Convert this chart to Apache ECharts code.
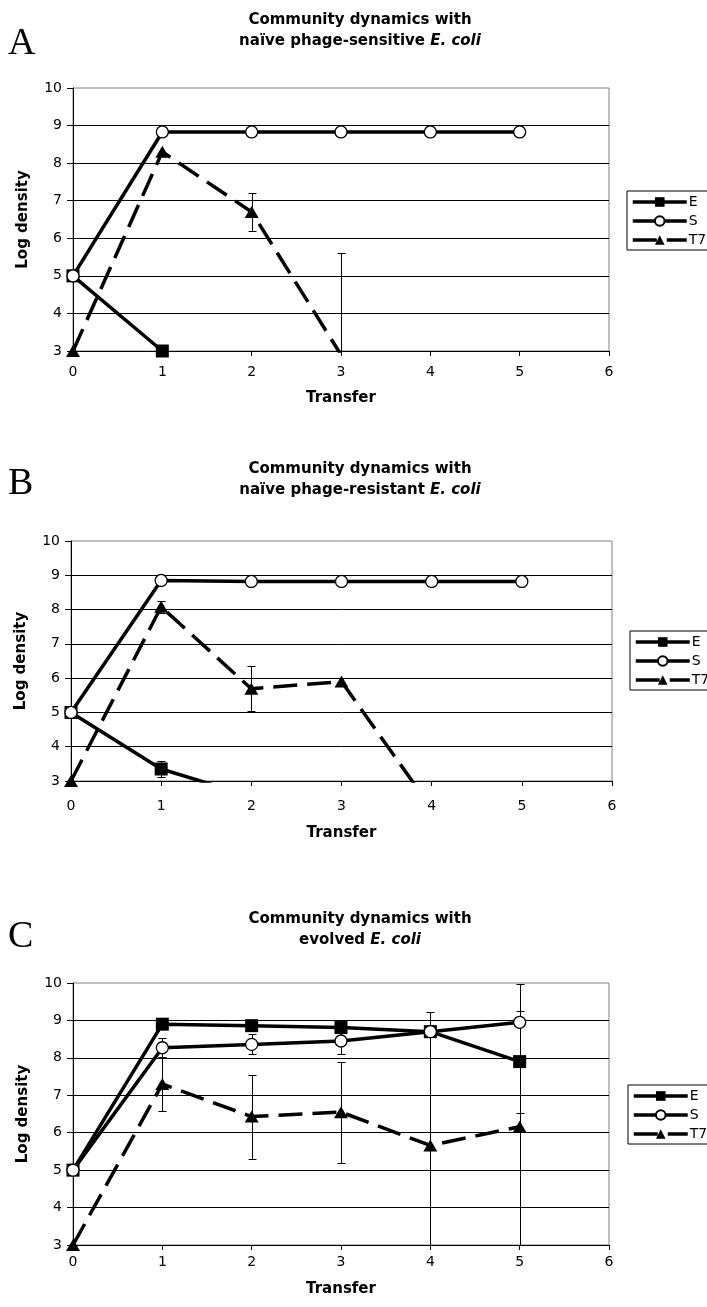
<!DOCTYPE html>
<html><head><meta charset="utf-8">
<script src="https://cdn.jsdelivr.net/npm/echarts@6/dist/echarts.min.js"></script>
<style>html,body{margin:0;padding:0;background:#fff}#c{width:707px;height:1307px}</style>
</head><body><div id="c"></div>
<script>
// ---------- data ----------
const transfers = [0, 1, 2, 3, 4, 5];
const seriesNames = ['E', 'S', 'T7'];
const panelLetters = ['A', 'B', 'C'];
const titleLine1 = 'Community dynamics with';
const titleLine2 = ['naïve phage-sensitive ', 'naïve phage-resistant ', 'evolved '];
const titleItalic = 'E. coli';
const yAxisName = 'Log density';
const xAxisName = 'Transfer';

// Panel A
const A_E = [5, 3, null, null, null, null];
const A_E_err = [0, 0, 0, 0, 0, 0];
const A_S = [5, 8.83, 8.83, 8.83, 8.83, 8.83];
const A_S_err = [0, 0, 0, 0, 0, 0];
const A_T7 = [3, 8.3, 6.7, 2.9, null, null];
const A_T7_err = [0, 0, 0.51, 2.7, 0, 0];

// Panel B
const B_E = [5, 3.35, 2.55, null, null, null];
const B_E_err = [0, 0.22, 0, 0, 0, 0];
const B_S = [5, 8.85, 8.82, 8.82, 8.82, 8.82];
const B_S_err = [0, 0, 0, 0, 0, 0];
const B_T7 = [3, 8.08, 5.69, 5.9, 2.2, null];
const B_T7_err = [0, 0.17, 0.65, 0, 0, 0];

// Panel C
const C_E = [5, 8.9, 8.86, 8.81, 8.7, 7.9];
const C_E_err = [0, 0, 0, 0, 0, 1.36];
const C_S = [5, 8.27, 8.36, 8.45, 8.7, 8.95];
const C_S_err = [0, 0.25, 0.27, 0.35, 0, 0];
const C_T7 = [3, 7.3, 6.43, 6.55, 5.66, 6.16];
const C_T7_err = [0, 0.71, 1.12, 1.35, 3.57, 3.82];

const panels = [
  { E: A_E, S: A_S, T7: A_T7, Eerr: A_E_err, Serr: A_S_err, Terr: A_T7_err },
  { E: B_E, S: B_S, T7: B_T7, Eerr: B_E_err, Serr: B_S_err, Terr: B_T7_err },
  { E: C_E, S: C_S, T7: C_T7, Eerr: C_E_err, Serr: C_S_err, Terr: C_T7_err }
];

// ---------- layout ----------
const FONT = 'DejaVu Sans';
const grids = [
  { left: 73, top: 88, width: 536, height: 263 },
  { left: 71, top: 541, width: 541, height: 240 },
  { left: 73, top: 983, width: 536, height: 262 }
];
const titleTops = [5, 454, 904];
const letterY = [45, 485, 938];
const xLabelMargin = [14, 18, 10];
const xNameGap = [40, 45, 37];
const legendPos = [
  { left: 627, top: 191 },
  { left: 630, top: 631 },
  { left: 628, top: 1085 }
];
const LINE_W = 3.5;
const DASH = [24, 10];

const chart = echarts.init(document.getElementById('c'), null, { renderer: 'canvas' });

const option = {
  backgroundColor: '#fff',
  animation: false,
  textStyle: { fontFamily: FONT, color: '#000' },
  title: [], grid: [], xAxis: [], yAxis: [], legend: [], series: [], graphic: []
};

function pairs(arr) {
  const out = [];
  arr.forEach((v, i) => { if (v !== null) out.push([transfers[i], v]); });
  return out;
}
function errItems(vals, errs) {
  const out = [];
  vals.forEach((v, i) => { if (v !== null && errs[i] > 0) out.push([transfers[i], v, errs[i]]); });
  return out;
}

panels.forEach((p, k) => {
  option.grid.push(Object.assign({ show: true, borderColor: '#808080', borderWidth: 1, backgroundColor: 'transparent', containLabel: false }, grids[k]));
  option.title.push({
    text: titleLine1 + '\n' + titleLine2[k] + '{i|' + titleItalic + '}',
    left: 355, top: titleTops[k], textAlign: 'center',
    textStyle: {
      fontFamily: FONT, fontSize: 15, fontWeight: 'bold', color: '#000', lineHeight: 21,
      rich: { i: { fontFamily: FONT, fontSize: 15, fontWeight: 'bold', fontStyle: 'italic', color: '#000', lineHeight: 21 } }
    }
  });
  option.graphic.push({
    type: 'text', left: 8, top: letterY[k] - 20,
    style: { text: panelLetters[k], font: '38px "Liberation Serif"', fill: '#000' }
  });
  option.xAxis.push({
    type: 'value', gridIndex: k, min: 0, max: 6, interval: 1,
    name: xAxisName, nameLocation: 'middle', nameGap: xNameGap[k],
    nameTextStyle: { fontFamily: FONT, fontSize: 15, fontWeight: 'bold', color: '#000' },
    axisLine: { show: true, onZero: false, lineStyle: { color: '#000', width: 1 } },
    axisTick: { show: true, inside: false, length: 5, lineStyle: { color: '#000' } },
    axisLabel: { fontFamily: FONT, fontSize: 14, color: '#000', margin: xLabelMargin[k] },
    splitLine: { show: false }
  });
  option.yAxis.push({
    type: 'value', gridIndex: k, min: 3, max: 10, interval: 1,
    name: yAxisName, nameLocation: 'middle', nameGap: 42, nameRotate: 90,
    nameTextStyle: { fontFamily: FONT, fontSize: 15, fontWeight: 'bold', color: '#000' },
    axisLine: { show: true, onZero: false, lineStyle: { color: '#000', width: 1 } },
    axisTick: { show: true, inside: false, length: 6, lineStyle: { color: '#000' } },
    axisLabel: { fontFamily: FONT, fontSize: 14, color: '#000', margin: 11 },
    splitLine: { show: true, showMinLine: false, showMaxLine: false, lineStyle: { color: '#000', width: 1 } }
  });
  option.legend.push({
    data: [
      { name: 'E', lineStyle: { color: '#000', width: LINE_W, type: 'solid' } },
      { name: 'S', lineStyle: { color: '#000', width: LINE_W, type: 'solid' } },
      { name: 'T7', lineStyle: { color: '#000', width: LINE_W, type: DASH } }
    ],
    orient: 'vertical',
    left: legendPos[k].left, top: legendPos[k].top,
    padding: [4, 40, 3, 4], itemWidth: 54, itemHeight: 12, itemGap: 5,
    borderColor: '#000', borderWidth: 1, backgroundColor: '#fff',
    selectedMode: false,
    textStyle: { fontFamily: FONT, fontSize: 14, color: '#000', padding: [0, 0, 0, -3] }
  });

  // error bars
  const errData = []
    .concat(errItems(p.E, p.Eerr))
    .concat(errItems(p.S, p.Serr))
    .concat(errItems(p.T7, p.Terr));
  option.series.push({
    type: 'custom', name: 'err' + k, xAxisIndex: k, yAxisIndex: k, clip: true, silent: true, z: 1,
    data: errData, encode: { x: 0, y: 1 },
    renderItem: function (params, api) {
      const x = api.value(0), y = api.value(1), e = api.value(2);
      const t = api.coord([x, y + e]);
      const b = api.coord([x, y - e]);
      const px = Math.round(t[0]) + 0.5;
      const ty = Math.round(t[1]) + 0.5, by = Math.round(b[1]) + 0.5;
      const hw = 4;
      const st = { stroke: '#000', lineWidth: 1 };
      return {
        type: 'group', children: [
          { type: 'line', shape: { x1: px, y1: ty, x2: px, y2: by }, style: st },
          { type: 'line', shape: { x1: px - hw, y1: ty, x2: px + hw, y2: ty }, style: st },
          { type: 'line', shape: { x1: px - hw, y1: by, x2: px + hw, y2: by }, style: st }
        ]
      };
    }
  });

  option.series.push({
    type: 'line', name: 'E', xAxisIndex: k, yAxisIndex: k, clip: true, z: 3,
    data: pairs(p.E), symbol: 'rect', symbolSize: 13,
    lineStyle: { color: '#000', width: LINE_W }, itemStyle: { color: '#000' }
  });
  option.series.push({
    type: 'line', name: 'S', xAxisIndex: k, yAxisIndex: k, clip: true, z: 4,
    data: pairs(p.S), symbol: 'circle', symbolSize: 12,
    lineStyle: { color: '#000', width: LINE_W }, itemStyle: { color: '#fff', borderColor: '#000', borderWidth: 1.3 }
  });
  option.series.push({
    type: 'line', name: 'T7', xAxisIndex: k, yAxisIndex: k, clip: true, z: 5,
    data: pairs(p.T7), symbol: 'triangle', symbolSize: [14, 12],
    lineStyle: { color: '#000', width: LINE_W, type: DASH }, itemStyle: { color: '#000' }
  });
});

chart.setOption(option);
</script>
</body></html>
